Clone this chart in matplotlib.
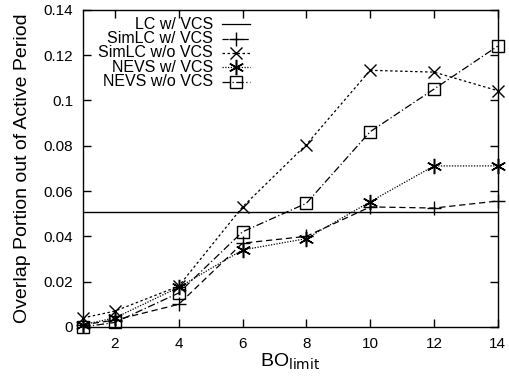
import matplotlib
matplotlib.use('Agg')
import matplotlib.pyplot as plt

plt.rcParams['font.family'] = ['Liberation Sans', 'DejaVu Sans']

# data
bo_limit = [1, 2, 4, 6, 8, 10, 12, 14]
lc_vcs = 0.0508
simlc_vcs = [0.001, 0.003, 0.010, 0.037, 0.040, 0.053, 0.0525, 0.0556]
simlc_novcs = [0.004, 0.007, 0.018, 0.053, 0.0805, 0.1133, 0.1125, 0.1043]
nevs_vcs = [0.001, 0.004, 0.0175, 0.034, 0.039, 0.0553, 0.0711, 0.0711]
nevs_novcs = [0.000, 0.002, 0.0150, 0.042, 0.0546, 0.0862, 0.1050, 0.1240]

labels = ['LC w/ VCS', 'SimLC w/ VCS', 'SimLC w/o VCS', 'NEVS w/ VCS', 'NEVS w/o VCS']
x_ticks = [2, 4, 6, 8, 10, 12, 14]
y_ticks = [0, 0.02, 0.04, 0.06, 0.08, 0.1, 0.12, 0.14]
y_ticklabels = ['0', '0.02', '0.04', '0.06', '0.08', '0.1', '0.12', '0.14']

fig = plt.figure(figsize=(5.09, 3.78), dpi=100)
ax = fig.add_axes([0.163, 0.135, 0.815, 0.839])

styles = [
    dict(ls='-', marker=None),
    dict(ls=(0, (5, 3)), marker='+', ms=10, mew=1.0),
    dict(ls=(0, (2, 2)), marker='x', ms=9, mew=1.0),
    dict(ls=(0, (1, 1.2)), marker=(6, 2, 0), ms=11, mew=1.1),
    dict(ls=(0, (6, 2, 1, 2)), marker='s', ms=9, mew=1.0, mfc='none'),
]
series = [None, simlc_vcs, simlc_novcs, nevs_vcs, nevs_novcs]

ax.axhline(lc_vcs, color='black', lw=1.0)
for s, st in zip(series[1:], styles[1:]):
    ax.plot(bo_limit, s, color='black', lw=0.9, clip_on=False, **st)

# gnuplot style legend: right aligned text, sample to the right
for i, (lab, st) in enumerate(zip(labels, styles)):
    yy = 0.955 - i * 0.0455
    ax.text(0.313, yy, lab, transform=ax.transAxes, ha='right', va='center', fontsize=11.5)
    ax.plot([0.335, 0.3685, 0.402], [yy, yy, yy], transform=ax.transAxes, color='black',
            lw=0.9, markevery=[1], **st)

ax.set_xlim(1, 14)
ax.set_ylim(0, 0.14)
ax.set_xticks(x_ticks)
ax.set_yticks(y_ticks)
ax.set_yticklabels(y_ticklabels)
ax.tick_params(direction='in', top=True, right=True, length=6, width=1, labelsize=11, pad=7)
for sp in ax.spines.values():
    sp.set_linewidth(1)

ax.set_xlabel('BO$_{\\mathrm{limit}}$', fontsize=14, labelpad=1)
ax.set_ylabel('Overlap Portion out of Active Period', fontsize=14, labelpad=9)

fig.savefig('out.png', dpi=100)
